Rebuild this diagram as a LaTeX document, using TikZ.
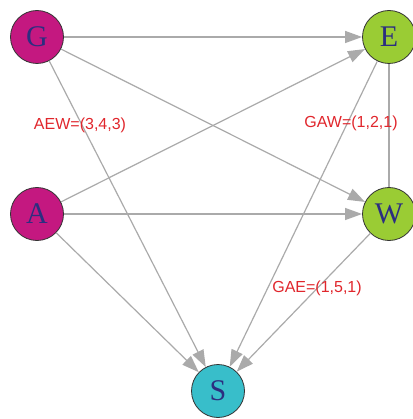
\documentclass[tikz,border=0pt]{standalone}
\usepackage{fontspec}
\setmainfont{Liberation Serif}
\newfontfamily\labelfont{Liberation Sans}
\usetikzlibrary{arrows.meta}
\definecolor{magentanode}{RGB}{196,24,128}
\definecolor{greennode}{RGB}{154,204,52}
\definecolor{cyannode}{RGB}{56,190,202}
\definecolor{lettercol}{RGB}{44,46,128}
\definecolor{edgegray}{RGB}{170,170,170}
\definecolor{labelred}{RGB}{224,38,44}
\tikzset{
  vertex/.style={circle, draw=black!80, line width=0.8pt, minimum size=53pt,
    inner sep=0pt, text=lettercol, font=\fontsize{30}{30}\selectfont},
  link/.style={draw=edgegray, line width=1.2pt,
    -{Triangle[length=17pt,width=12pt,fill=edgegray]}},
  plainlink/.style={draw=edgegray, line width=1.2pt},
  weight/.style={text=labelred, font=\labelfont\fontsize{16}{16}\selectfont, inner sep=0pt}
}
\begin{document}
\begin{tikzpicture}[x=1pt,y=-1pt]
\useasboundingbox (0,0) rectangle (412,419);
% vertices
\node[vertex, fill=magentanode] (G) at (37,37) {G};
\node[vertex, fill=greennode]   (E) at (389,37) {E};
\node[vertex, fill=magentanode] (A) at (37,214) {A};
\node[vertex, fill=greennode]   (W) at (389,214) {W};
\node[vertex, fill=cyannode]    (S) at (218,391) {S};
% directed edges
\draw[link] (G) -- (E);
\draw[link] (G) -- (W);
\draw[link] (G) -- (S);
\draw[link] (A) -- (E);
\draw[link] (A) -- (W);
\draw[link] (A) -- (S);
\draw[link] (E) -- (S);
\draw[link] (W) -- (S);
\draw[plainlink] (E) -- (W);
% weight labels
\node[weight] (l1) at (80,125) {AEW=(3,4,3)};
\node[weight] (l2) at (351,123) {GAW=(1,2,1)};
\node[weight] (l3) at (317,288) {GAE=(1,5,1)};
\end{tikzpicture}
\end{document}
